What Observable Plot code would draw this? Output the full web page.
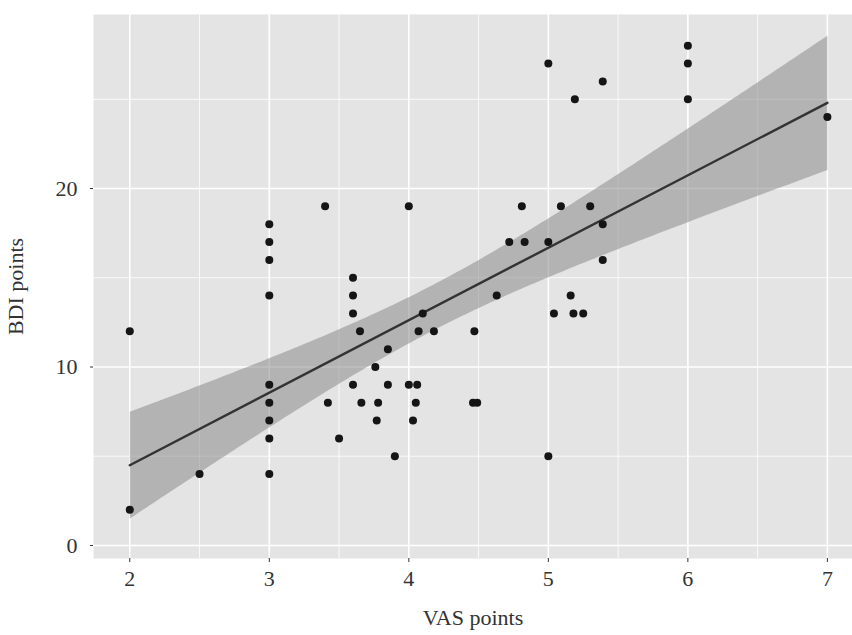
<!DOCTYPE html>
<html>
<head>
<meta charset="utf-8">
<script src="https://cdn.jsdelivr.net/npm/d3@7"></script>
<script src="https://cdn.jsdelivr.net/npm/@observablehq/plot@0.6"></script>
<style>
  html, body { margin: 0; padding: 0; background: white; }
</style>
</head>
<body>
<div id="chart"></div>
<script>
// VAS points (x) and BDI points (y) for each participant
const vas = [2, 2, 2.5, 3, 3, 3, 3, 3, 3, 3, 3, 3,
  3.4, 3.42, 3.5, 3.6, 3.6, 3.6, 3.65, 3.6, 3.66, 3.76, 3.78, 3.77, 3.85, 3.85, 3.9,
  4, 4, 4.06, 4.05, 4.03, 4.1, 4.07, 4.18, 4.47, 4.46, 4.49, 4.63, 4.72, 4.83, 4.81,
  5, 5, 5, 5.04, 5.09, 5.16, 5.18, 5.25, 5.19, 5.3, 5.39, 5.39, 5.39, 6, 6, 6, 7];
const bdi = [12, 2, 4, 18, 17, 16, 14, 9, 8, 7, 6, 4,
  19, 8, 6, 15, 14, 13, 12, 9, 8, 10, 8, 7, 11, 9, 5,
  19, 9, 9, 8, 7, 13, 12, 12, 12, 8, 8, 14, 17, 17, 19,
  27, 17, 5, 13, 19, 14, 13, 13, 25, 19, 26, 18, 16, 28, 27, 25, 24];

const xMajor = [2, 3, 4, 5, 6, 7];
const xMinor = [2.5, 3.5, 4.5, 5.5, 6.5];
const yMajor = [0, 10, 20];
const yMinor = [5, 15, 25];

const data = vas.map((v, i) => ({vas: v, bdi: bdi[i]}));

const chart = Plot.plot({
  width: 852,
  height: 635,
  marginTop: 14,
  marginBottom: 77,
  marginLeft: 93,
  marginRight: 0,
  style: {
    fontFamily: "'Liberation Serif', 'Times New Roman', serif",
    fontSize: "22px",
    background: "white",
    color: "#333"
  },
  x: {domain: [1.74, 7.18]},
  y: {domain: [-0.73, 29.75]},
  marks: [
    Plot.frame({fill: "#e4e4e4", stroke: null}),
    Plot.ruleX(xMinor, {stroke: "white", strokeWidth: 0.8}),
    Plot.ruleY(yMinor, {stroke: "white", strokeWidth: 0.8}),
    Plot.ruleX(xMajor, {stroke: "white", strokeWidth: 1.6}),
    Plot.ruleY(yMajor, {stroke: "white", strokeWidth: 1.6}),
    Plot.linearRegressionY(data, {
      x: "vas", y: "bdi", ci: 0.95,
      stroke: "#333", strokeWidth: 2.4,
      fill: "#8a8a8a", fillOpacity: 0.55
    }),
    Plot.dot(data, {x: "vas", y: "bdi", r: 4, fill: "#151515", stroke: null}),
    Plot.axisX({
      ticks: xMajor, tickSize: 4, tickPadding: 8, tickFormat: d => String(d),
      fontSize: 22,
      label: "VAS points", labelAnchor: "center", labelOffset: 66, labelArrow: "none"
    }),
    Plot.axisY({
      ticks: yMajor, tickSize: 3, tickPadding: 13, tickFormat: d => String(d),
      fontSize: 22,
      label: "BDI points", labelAnchor: "center", labelOffset: 86, labelArrow: "none"
    })
  ]
});
document.getElementById("chart").appendChild(chart);
</script>
</body>
</html>
